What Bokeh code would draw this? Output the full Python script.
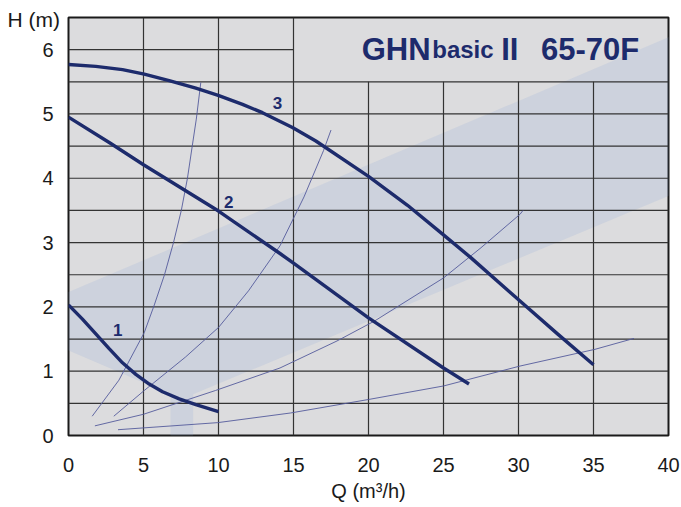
from bokeh.plotting import figure
from bokeh.models import PolyAnnotation, Label, FixedTicker, Range1d, Title
from bokeh.embed import file_html
from bokeh.resources import INLINE

# ---- data ----
x_ticks = [0, 5, 10, 15, 20, 25, 30, 35, 40]
y_ticks = [0, 1, 2, 3, 4, 5, 6]

q_curve1 = [0, 0.93, 1.82, 2.71, 3.6, 4.49, 5.38, 6.27, 7.38, 8.49, 10.0]
h_curve1 = [2.03, 1.81, 1.58, 1.35, 1.13, 0.95, 0.80, 0.68, 0.57, 0.48, 0.37]

q_curve2 = [0, 2.82, 5, 10, 14.1, 15, 20, 25, 26.7]
h_curve2 = [4.95, 4.54, 4.21, 3.49, 2.83, 2.68, 1.83, 1.05, 0.80]

q_curve3 = [0, 1.82, 3.6, 5.05, 6.71, 8.49, 9.98, 11.6, 12.93, 14.93, 16.49, 20, 22.6, 25, 26.8, 30.1, 32.6, 35.0]
h_curve3 = [5.77, 5.74, 5.69, 5.62, 5.52, 5.40, 5.29, 5.15, 5.02, 4.79, 4.58, 4.03, 3.58, 3.12, 2.77, 2.09, 1.58, 1.10]

q_sysA = [1.58, 3.36, 5.05, 5.72, 6.40, 7.00, 7.52, 7.93, 8.30, 8.52, 8.82]
h_sysA = [0.30, 0.86, 1.60, 2.03, 2.50, 3.00, 3.50, 4.00, 4.58, 4.92, 5.49]

q_sysB = [3.02, 5.05, 7.8, 10.0, 12.0, 14.1, 15.7, 17.0, 17.5]
h_sysB = [0.30, 0.70, 1.22, 1.68, 2.25, 2.95, 3.71, 4.43, 4.75]

q_sysC = [1.76, 5.0, 9.8, 14.1, 17.9, 20.4, 25.0, 27.5, 30.1, 30.3]
h_sysC = [0.15, 0.33, 0.70, 1.05, 1.47, 1.78, 2.45, 2.92, 3.44, 3.50]

q_sysD = [3.3, 9.95, 14.8, 20.0, 25.0, 30.1, 35.1, 37.7]
h_sysD = [0.09, 0.20, 0.35, 0.56, 0.77, 1.08, 1.34, 1.51]

curve_labels = ["1", "2", "3"]
curve_label_q = [3.29, 10.69, 13.93]
curve_label_h = [1.64, 3.63, 5.17]

# decorative watermark outline (data units)
arrow_x = [-4.53, 40.87, 40.87, 8.31, 8.31, 6.8, 6.8]
arrow_y = [1.78, 6.28, 3.81, 0.64, -1.15, -1.15, 0.64]

NAVY = "#1d2b6c"
THIN = "#555b9c"
GRID = "#333333"
FONT = "Liberation Sans"

p = figure(frame_width=600, frame_height=418, output_backend="svg",
           toolbar_location=None, x_range=Range1d(0, 40), y_range=Range1d(0, 6.5),
           min_border_left=68, min_border_right=12, min_border_top=17, min_border_bottom=66)
p.background_fill_color = "#dcdcde"
p.border_fill_color = "white"
p.outline_line_color = "#1a1a1a"
p.outline_line_width = 2
p.xgrid.visible = False
p.ygrid.visible = False

p.title = Title(text="H (m)", align="left", offset=-61, standoff=-26,
                text_font=FONT, text_font_size="21px", text_font_style="normal",
                text_color="#1a1a1a")

for ax in (p.xaxis[0], p.yaxis[0]):
    ax.axis_line_color = None
    ax.major_tick_line_color = None
    ax.minor_tick_line_color = None
    ax.major_label_text_font = FONT
    ax.major_label_text_font_size = "20px"
    ax.major_label_text_color = "#1a1a1a"
p.xaxis.ticker = FixedTicker(ticks=x_ticks)
p.yaxis.ticker = FixedTicker(ticks=y_ticks)
p.xaxis.major_label_standoff = 16
p.yaxis.major_label_standoff = 9
p.xaxis.axis_label = "Q (m³/h)"
p.xaxis.axis_label_text_font = FONT
p.xaxis.axis_label_text_font_size = "20px"
p.xaxis.axis_label_text_font_style = "normal"
p.xaxis.axis_label_text_color = "#1a1a1a"
p.xaxis.axis_label_standoff = 5

# watermark (inside the frame)
p.add_layout(PolyAnnotation(xs=arrow_x, ys=arrow_y, fill_color="#8aa6d6", fill_alpha=0.18,
                            line_color=None, level="underlay"))

# grid lines
half = [y_ticks[i] + 0.5 * k for i in range(len(y_ticks)) for k in (0, 1)][1:]
h_y = [v for v in half if v < 6.5]
h_x1 = [15 if v >= 6 else 40 for v in h_y]
p.segment(x0=[0] * len(h_y), y0=h_y, x1=h_x1, y1=h_y, line_color=GRID, line_width=1.2)
v_x = x_ticks[1:-1]
v_y1 = [6.5 if v <= 15 else 5.5 for v in v_x]
p.segment(x0=v_x, y0=[0] * len(v_x), x1=v_x, y1=v_y1, line_color=GRID, line_width=1.2)

# system curves
for qs, hs in ((q_sysA, h_sysA), (q_sysB, h_sysB), (q_sysC, h_sysC), (q_sysD, h_sysD)):
    p.line(qs, hs, line_color=THIN, line_width=0.9, line_join="round")

# pump curves
for qs, hs in ((q_curve1, h_curve1), (q_curve2, h_curve2), (q_curve3, h_curve3)):
    p.line(qs, hs, line_color=NAVY, line_width=3.4, line_join="round")

p.text(x=curve_label_q, y=curve_label_h, text=curve_labels, text_color=NAVY,
       text_font_size="17px", text_font_style="bold", text_align="center",
       text_baseline="middle", text_font={"value": FONT})

# title parts
def lab(x, y, t, size, **kw):
    p.add_layout(Label(x=x, y=y, text=t, text_font=FONT, text_font_size=size,
                       text_color=NAVY, text_baseline="alphabetic", **kw))

TY = 6.01
lab(19.55, TY, "GHN", "31px", text_font_style="bold")
lab(24.25, TY, "basic", "24px", text_font_style="bold")
lab(28.85, TY, "II", "31px", text_font_style="bold")
lab(31.5, TY, "65-70F", "31px", text_font_style="bold")

open("out.html", "w").write(file_html(p, INLINE))
